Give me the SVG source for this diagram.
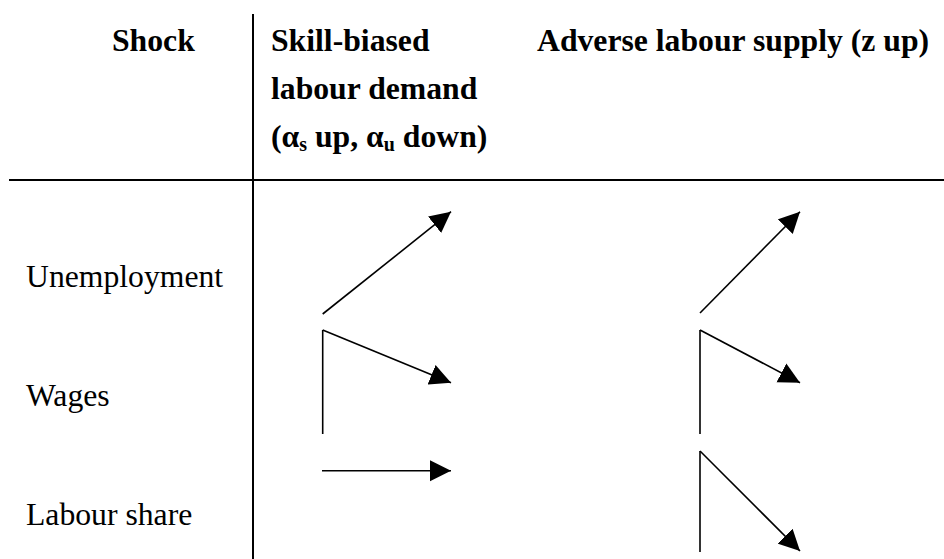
<svg xmlns="http://www.w3.org/2000/svg" width="944" height="559" viewBox="0 0 944 559">
<style>
.h{font-family:"Liberation Serif","Times New Roman","DejaVu Serif",serif;font-weight:bold;font-size:31.7px;fill:#000}
.r{font-family:"Liberation Serif","Times New Roman","DejaVu Serif",serif;font-size:31.7px;fill:#000}
.ln{stroke:#000;stroke-width:1.6;fill:none}
.rule{stroke:#000;stroke-width:2;fill:none}
.sub{font-size:20px}
</style>
<defs>
<marker id="ah" markerUnits="userSpaceOnUse" markerWidth="22" markerHeight="22" refX="21" refY="10.5" orient="auto" viewBox="0 0 22 21">
<path d="M0,0 L21,10.5 L0,21 Z" fill="#000"/>
</marker>
</defs>
<rect width="944" height="559" fill="#fff"/>
<g id="table-rules">
<line class="rule" x1="253" y1="14" x2="253" y2="559"/>
<line class="rule" x1="9" y1="180" x2="944" y2="180"/>
</g>
<g id="header-shock"><text class="h" x="112" y="51">Shock</text></g>
<g id="header-skill">
<text class="h" x="271" y="51">Skill-biased</text>
<text class="h" x="271" y="99">labour demand</text>
<text class="h" x="271" y="147">(α<tspan class="sub" dy="4">s</tspan><tspan dy="-4"> up, α</tspan><tspan class="sub" dy="4">u</tspan><tspan dy="-4"> down)</tspan></text>
</g>
<g id="header-adverse"><text class="h" x="537" y="51">Adverse labour supply (z up)</text></g>
<g id="row-unemployment"><text class="r" x="26" y="287">Unemployment</text></g>
<g id="row-wages"><text class="r" x="26" y="406">Wages</text></g>
<g id="row-labour-share"><text class="r" x="26" y="525">Labour share</text></g>
<g id="connectors">
<line class="ln" x1="322.7" y1="314" x2="451" y2="211.7" marker-end="url(#ah)"/>
<line class="ln" x1="322.7" y1="434" x2="322.7" y2="330"/>
<line class="ln" x1="322.7" y1="330" x2="451" y2="382.7" marker-end="url(#ah)"/>
<line class="ln" x1="322" y1="470.7" x2="451" y2="470.7" marker-end="url(#ah)"/>
<line class="ln" x1="700" y1="313" x2="800" y2="211.7" marker-end="url(#ah)"/>
<line class="ln" x1="700" y1="434" x2="700" y2="330"/>
<line class="ln" x1="700" y1="330" x2="800" y2="382.7" marker-end="url(#ah)"/>
<line class="ln" x1="700" y1="552" x2="700" y2="451"/>
<line class="ln" x1="700" y1="451" x2="800" y2="551" marker-end="url(#ah)"/>
</g>
</svg>
